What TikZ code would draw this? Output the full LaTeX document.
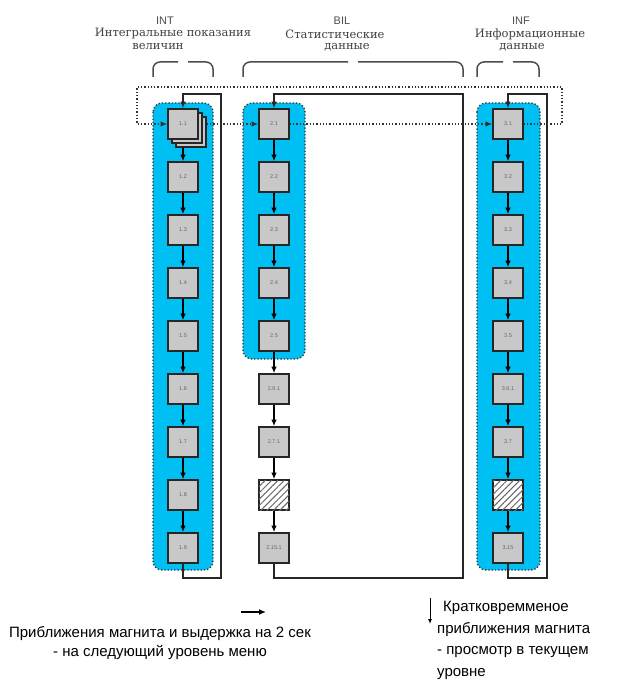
\documentclass[tikz,border=0pt]{standalone}
\usepackage{fontspec}
\setmainfont{Liberation Sans}
\newfontfamily\hdrfont{DejaVu Serif}
\usetikzlibrary{arrows.meta,patterns.meta}
\definecolor{panelblue}{RGB}{0,191,243}
\definecolor{boxgray}{RGB}{200,200,200}
\begin{document}
\begin{tikzpicture}[x=1pt,y=-1pt,
  menubox/.style={draw=black!85,line width=1.6pt,fill=boxgray,minimum width=30pt,minimum height=30pt,inner sep=0pt,font=\fontsize{5.5}{6}\selectfont,text=black!60},
  hatchbox/.style={menubox,fill=white,postaction={pattern={Lines[angle=45,distance=4.5pt,line width=1pt]},pattern color=black!60}},
  panel/.style={fill=panelblue,draw=black!80,dotted,line width=1.3pt,rounded corners=9pt},
  tip/.style={-{Latex[length=6.5pt,width=5.5pt]}},
  flow/.style={line width=1.4pt,draw=black,tip},
  loopline/.style={line width=1.1pt,draw=black!85},
  dotloop/.style={draw=black!80,line width=1.3pt,dotted},
  brace/.style={draw=black!70,line width=1.5pt,rounded corners=7pt},
  hdrsans/.style={font=\fontsize{11}{12}\selectfont,text=black!70},
  hdr/.style={font=\hdrfont\fontsize{11.5}{12}\selectfont,text=black!75,inner sep=1pt},
  legend/.style={font=\fontsize{15}{19}\selectfont,text=black}
]
\useasboundingbox (0,0) rectangle (622,682);

% headers
\node[hdrsans] (hint) at (165,21) {INT};
\node[hdr] (hint1) at (173,34) {Интегральные показания};
\node[hdr] (hint2) at (158,47) {величин};
\node[hdrsans] (hbil) at (342,21) {BIL};
\node[hdr] (hbil1) at (335,34) {Статистические};
\node[hdr] (hbil2) at (347,47) {данные};
\node[hdrsans] (hinf) at (521,21) {INF};
\node[hdr] (hinf1) at (530,34) {Информационные};
\node[hdr] (hinf2) at (522,47) {данные};

% braces
\draw[brace] (153,77) -- (153,62) -- (178,62);
\draw[brace] (188,62) -- (213,62) -- (213,77);
\draw[brace] (243,77) -- (243,62) -- (348,62);
\draw[brace] (358,62) -- (463,62) -- (463,77);
\draw[brace] (477,77) -- (477,62) -- (503,62);
\draw[brace] (513,62) -- (539,62) -- (539,77);

% panels
\draw[panel] (153,103) rectangle (213,570);
\draw[panel] (243,103) rectangle (305,359);
\draw[panel] (477,103) rectangle (540,570);

% column 1
\node[menubox] (s1b) at (191,132) {};
\node[menubox] (s1a) at (187,128) {};
\node[menubox] (n11) at (183,124) {1.1};
\node[menubox] (n12) at (183,177) {1.2};
\node[menubox] (n13) at (183,230) {1.3};
\node[menubox] (n14) at (183,283) {1.4};
\node[menubox] (n15) at (183,336) {1.5};
\node[menubox] (n16) at (183,389) {1.6};
\node[menubox] (n17) at (183,442) {1.7};
\node[menubox] (n18) at (183,495) {1.8};
\node[menubox] (n19) at (183,548) {1.9};

% column 2
\node[menubox] (n21) at (274,124) {2.1};
\node[menubox] (n22) at (274,177) {2.2};
\node[menubox] (n23) at (274,230) {2.3};
\node[menubox] (n24) at (274,283) {2.4};
\node[menubox] (n25) at (274,336) {2.5};
\node[menubox] (n26) at (274,389) {2.6.1};
\node[menubox] (n27) at (274,442) {2.7.1};
\node[hatchbox] (n28) at (274,495) {};
\node[menubox] (n29) at (274,548) {2.15.1};

% column 3
\node[menubox] (n31) at (508,124) {3.1};
\node[menubox] (n32) at (508,177) {3.2};
\node[menubox] (n33) at (508,230) {3.3};
\node[menubox] (n34) at (508,283) {3.4};
\node[menubox] (n35) at (508,336) {3.5};
\node[menubox] (n36) at (508,389) {3.6.1};
\node[menubox] (n37) at (508,442) {3.7};
\node[hatchbox] (n38) at (508,495) {};
\node[menubox] (n39) at (508,548) {3.15};

% vertical flow
\draw[flow] (s1b.south -| n11.south) -- (n12);
\foreach \a/\b in {n12/n13,n13/n14,n14/n15,n15/n16,n16/n17,n17/n18,n18/n19,
  n21/n22,n22/n23,n23/n24,n24/n25,n25/n26,n26/n27,n27/n28,n28/n29,
  n31/n32,n32/n33,n33/n34,n34/n35,n35/n36,n36/n37,n37/n38,n38/n39}
  \draw[flow] (\a) -- (\b);

% return loops
\coordinate (r1) at (221,578); \coordinate (t1) at (221,94);
\coordinate (r2) at (463,578); \coordinate (t2) at (463,94);
\coordinate (r3) at (547,578); \coordinate (t3) at (547,94);
\draw[loopline,tip] (n19.south) |- (r1) -- (t1) -| (n11.north);
\draw[loopline,tip] (n29.south) |- (r2) -- (t2) -| (n21.north);
\draw[loopline,tip] (n39.south) |- (r3) -- (t3) -| (n31.north);

% dotted loop
\coordinate (d1) at (562,124); \coordinate (d2) at (562,87);
\coordinate (d3) at (137,87); \coordinate (d4) at (137,124);
\draw[dotloop,tip] (n31.east) -- (d1) -- (d2) -- (d3) -- (d4) -- (n11.west);
\draw[dotloop,tip] (s1b.east |- n11.east) -- (n21.west);
\draw[dotloop,tip] (n21.east) -- (n31.west);

% legend
\coordinate (la) at (241,612); \coordinate (lb) at (266,612);
\draw[line width=1.8pt,-{Latex[length=7pt,width=6pt]}] (la) -- (lb);
\coordinate (lc) at (430,598); \coordinate (ld) at (430,624);
\draw[line width=1pt,-{Latex[length=5pt,width=4pt]}] (lc) -- (ld);
\node[legend,align=center] (leg1) at (160,643) {Приближения магнита и выдержка на 2 сек\\- на следующий уровень меню};
\node[legend,align=left,anchor=north west,inner sep=0pt,font=\fontsize{15}{21.5}\selectfont] (leg2) at (437,601) {\hspace{6pt}Кратковремменое\\приближения магнита\\- просмотр в текущем\\уровне};
\end{tikzpicture}
\end{document}
